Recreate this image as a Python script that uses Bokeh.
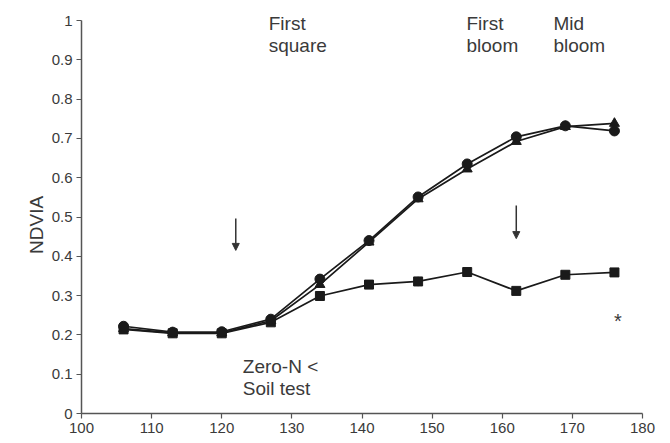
from bokeh.plotting import figure
from bokeh.models import (ColumnDataSource, Label, Arrow, NormalHead, FixedTicker,
                          CustomJSTickFormatter, Whisker, Range1d)
from bokeh.embed import file_html
from bokeh.resources import INLINE

# ---- data ----
days = [106, 113, 120, 127, 134, 141, 148, 155, 162, 169, 176]
ndvia_circle = [0.222, 0.207, 0.208, 0.240, 0.342, 0.440, 0.551, 0.635, 0.704, 0.732, 0.719]
ndvia_triangle = [0.216, 0.205, 0.205, 0.236, 0.328, 0.436, 0.546, 0.622, 0.692, 0.730, 0.738]
ndvia_square = [0.214, 0.204, 0.204, 0.232, 0.299, 0.328, 0.336, 0.360, 0.312, 0.353, 0.359]
square_err = [0.0, 0.0, 0.0, 0.0, 0.0, 0.0, 0.012, 0.0, 0.010, 0.0, 0.0]

x_ticks = [100, 110, 120, 130, 140, 150, 160, 170, 180]
y_ticks = [0, 0.1, 0.2, 0.3, 0.4, 0.5, 0.6, 0.7, 0.8, 0.9, 1]

stage_days = [126.7, 154.9, 167.3]
stage_line1 = ["First", "First", "Mid"]
stage_line2 = ["square", "bloom", "bloom"]
arrow_days = [122, 162]
arrow_top = [0.496, 0.529]
arrow_bottom = [0.415, 0.445]
note_day = 123.0
note_lines = ["Zero-N <", "Soil test"]
star_day = 176.5
star_val = 0.236

FONT = "Liberation Sans"
TXT = "#3a3a3a"
INK = "#1a1a1a"

EXTRA = 16  # px of frame above y = 1 so that the stage labels are not clipped
p = figure(frame_width=561, frame_height=393 + EXTRA, output_backend="svg", toolbar_location=None,
           x_range=Range1d(100, 180), y_range=Range1d(0, 1 + EXTRA / 393),
           min_border_left=81, min_border_right=28, min_border_top=20 - EXTRA, min_border_bottom=30)
p.outline_line_color = None
p.xgrid.visible = False
p.ygrid.visible = False
p.background_fill_color = "white"
p.border_fill_color = "white"

for ax in (p.xaxis[0], p.yaxis[0]):
    ax.axis_line_color = "#555555"
    ax.axis_line_width = 1.5
    ax.major_tick_line_color = "#555555"
    ax.major_tick_line_width = 1.2
    ax.major_tick_out = 5
    ax.major_tick_in = 0
    ax.minor_tick_line_color = None
    ax.major_label_text_font = FONT
    ax.major_label_text_font_size = "15px"
    ax.major_label_text_color = TXT
    ax.major_label_standoff = 4

p.yaxis.bounds = (0, 1)
p.xaxis.ticker = FixedTicker(ticks=x_ticks)
p.yaxis.ticker = FixedTicker(ticks=y_ticks)
p.yaxis.formatter = CustomJSTickFormatter(code="return (Math.round(tick*10)/10).toString();")
p.yaxis.axis_label = "NDVIA" + "\u00a0" * 6
p.yaxis.axis_label_text_font = FONT
p.yaxis.axis_label_text_font_size = "19px"
p.yaxis.axis_label_text_font_style = "normal"
p.yaxis.axis_label_text_color = TXT
p.yaxis.axis_label_standoff = 2

lo = [v - e for v, e in zip(ndvia_square, square_err)]
hi = [v + e for v, e in zip(ndvia_square, square_err)]
src = ColumnDataSource(dict(x=days, c=ndvia_circle, t=ndvia_triangle, s=ndvia_square, lo=lo, hi=hi))

p.add_layout(Whisker(source=src, base="x", lower="lo", upper="hi", line_color=INK,
                     line_width=1, upper_head=None, lower_head=None))

p.line("x", "s", source=src, line_color=INK, line_width=1.7)
p.scatter("x", "s", source=src, marker="square", size=9, fill_color=INK, line_color=INK)
p.line("x", "t", source=src, line_color=INK, line_width=1.7)
p.scatter("x", "t", source=src, marker="triangle", size=10, fill_color=INK, line_color=INK)
p.line("x", "c", source=src, line_color=INK, line_width=1.7)
p.scatter("x", "c", source=src, marker="circle", size=10, fill_color=INK, line_color=INK)

for d, a, b in zip(stage_days, stage_line1, stage_line2):
    p.add_layout(Label(x=d, y=0.9924, text=a, text_font=FONT, text_font_size="19px",
                       text_color=TXT, text_baseline="alphabetic", text_align="left"))
    p.add_layout(Label(x=d, y=0.936, text=b, text_font=FONT, text_font_size="19px",
                       text_color=TXT, text_baseline="alphabetic", text_align="left"))

for i, line in enumerate(note_lines):
    p.add_layout(Label(x=note_day, y=[0.119, 0.063][i], text=line, text_font=FONT,
                       text_font_size="19px", text_color=TXT, text_baseline="alphabetic",
                       text_align="left"))

for d, t, b in zip(arrow_days, arrow_top, arrow_bottom):
    p.add_layout(Arrow(x_start=d, y_start=t, x_end=d, y_end=b, line_color="#333333", line_width=1.5,
                       end=NormalHead(size=7, fill_color="#333333", line_color="#333333")))

p.add_layout(Label(x=star_day, y=star_val, text="*", text_font=FONT, text_font_size="20px",
                   text_color=TXT, text_baseline="alphabetic", text_align="center"))

open("out.html", "w").write(file_html(p, INLINE))
